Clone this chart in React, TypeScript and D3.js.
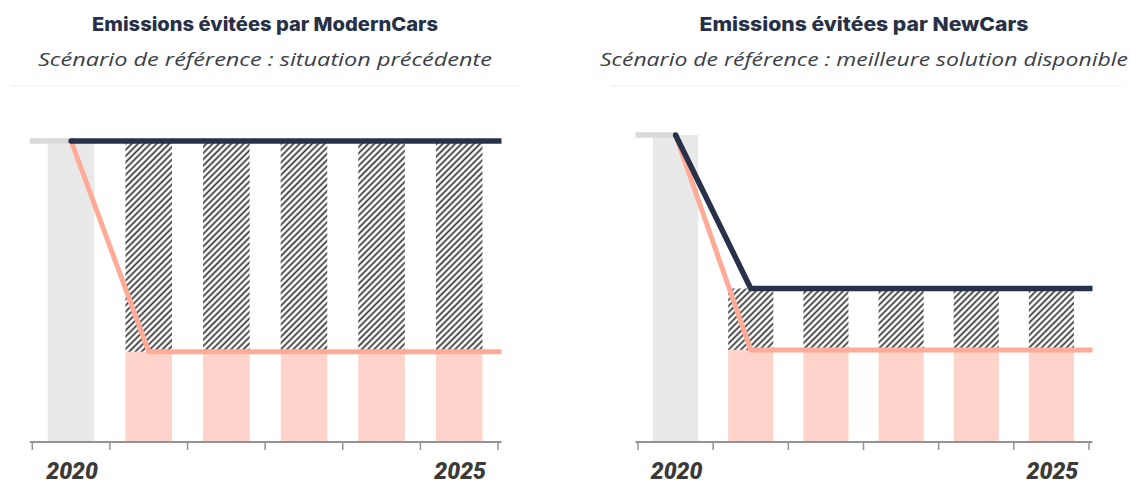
import React from "react";
import * as d3 from "d3";

const years = ["2020", "2021", "2022", "2023", "2024", "2025"];
const tickLabels = ["2020", "", "", "", "", "2025"];

const modernTitle = "Emissions évitées par ModernCars";
const modernSubtitle = "Scénario de référence : situation précédente";
const modernReference = [100, 100, 100, 100, 100, 100];
const modernEmissions = [100, 30, 30, 30, 30, 30];

const newTitle = "Emissions évitées par NewCars";
const newSubtitle = "Scénario de référence : meilleure solution disponible";
const newReference = [100, 50, 50, 50, 50, 50];
const newEmissions = [100, 30, 30, 30, 30, 30];

const NAVY = "#27324a";
const PINK_LINE = "#ffab97";
const PINK_BAR = "#fdd3ca";
const GRAY_BAR = "#e9e9e9";
const GRAY_LINE = "#d9d9d9";
const AXIS = "#939393";

type PanelProps = {
  id: string;
  title: string;
  subtitle: string;
  reference: number[];
  emissions: number[];
  x0: number;
  x1: number;
  yTop: number;
  cx: number;
  titleW: number;
  subW: number;
  sepX0: number;
  sepX1: number;
};

function Panel(p: PanelProps) {
  const yBase = 442;
  const x = d3.scaleBand<string>().domain(years).range([p.x0, p.x1]).paddingInner(0.4).paddingOuter(0.2);
  const y = d3.scaleLinear().domain([0, 100]).range([yBase, p.yTop]);
  const step = x.step();
  const bw = x.bandwidth();
  const center = (yr: string) => (x(yr) as number) + bw / 2;
  const axisStart = p.x0 - 2.5;
  const axisEnd = p.x1 + 3.5;
  const boundaries = d3.range(years.length + 1).map((i) => p.x0 + i * step);

  const line = d3.line<[number, number]>().x((d) => d[0]).y((d) => d[1]);

  const grayPts: [number, number][] = [
    [axisStart, y(p.emissions[0])],
    [center(years[0]), y(p.emissions[0])],
  ];
  const pinkPts: [number, number][] = years.map((yr, i) => [center(yr), y(p.emissions[i])] as [number, number]);
  pinkPts.push([axisEnd, y(p.emissions[p.emissions.length - 1])]);
  const navyPts: [number, number][] = years.map((yr, i) => [center(yr), y(p.reference[i])] as [number, number]);
  navyPts.push([axisEnd, y(p.reference[p.reference.length - 1])]);

  return (
    <g>
      <text x={p.cx} y={31} textAnchor="middle" fontFamily="Inter, 'Noto Sans', sans-serif" fontWeight={800} fontSize={19} fill="#263046" textLength={p.titleW} lengthAdjust="spacingAndGlyphs">
        {p.title}
      </text>
      <text x={p.cx} y={66} textAnchor="middle" fontFamily="'Open Sans', 'Noto Sans', sans-serif" fontStyle="italic" fontWeight={400} fontSize={18.5} fill="#3a3f4a" textLength={p.subW} lengthAdjust="spacingAndGlyphs">
        {p.subtitle}
      </text>
      <line x1={p.sepX0} x2={p.sepX1} y1={86} y2={86} stroke="#eeeeee" strokeWidth={1} />

      {years.map((yr, i) => {
        const bx = x(yr) as number;
        if (i === 0) {
          return <rect key={yr} x={bx} y={y(p.emissions[i])} width={bw} height={yBase - y(p.emissions[i])} fill={GRAY_BAR} />;
        }
        return (
          <g key={yr}>
            <rect x={bx} y={y(p.emissions[i])} width={bw} height={yBase - y(p.emissions[i])} fill={PINK_BAR} />
            <rect x={bx} y={y(p.reference[i])} width={bw} height={y(p.emissions[i]) - y(p.reference[i])} fill={`url(#hatch-${p.id})`} />
          </g>
        );
      })}

      <path d={line(grayPts) || ""} fill="none" stroke={GRAY_LINE} strokeWidth={5.5} />
      <path d={line(pinkPts) || ""} fill="none" stroke={PINK_LINE} strokeWidth={5} strokeLinejoin="round" />
      <path d={line(navyPts) || ""} fill="none" stroke={NAVY} strokeWidth={5.5} strokeLinejoin="round" strokeLinecap="butt" />
      <circle cx={center(years[0])} cy={y(p.reference[0])} r={2.75} fill={NAVY} />

      <line x1={axisStart} x2={axisEnd} y1={yBase} y2={yBase} stroke={AXIS} strokeWidth={2} />
      {boundaries.map((bx, i) => (
        <line key={i} x1={bx} x2={bx} y1={yBase} y2={yBase + 8} stroke={AXIS} strokeWidth={1.5} />
      ))}
      {years.map((yr, i) => (
        <text key={yr} x={center(yr) + 1} y={479} textAnchor="middle" fontFamily="Roboto, Lato, 'DejaVu Sans', sans-serif" fontWeight={900} fontStyle="italic" fontSize={23} fill="#3a3a3a">
          {tickLabels[i]}
        </text>
      ))}
    </g>
  );
}

export default function App() {
  return (
    <>
      <style>{`body{margin:0}`}</style>
      <svg width={1130} height={484} style={{ display: "block", background: "#fff" }}>
        <defs>
          {["m", "n"].map((id) => (
            <pattern key={id} id={`hatch-${id}`} patternUnits="userSpaceOnUse" width={4.4} height={4.4} patternTransform="rotate(45)">
              <rect width={4.4} height={4.4} fill="#fff" />
              <line x1={1.2} y1={0} x2={1.2} y2={4.4} stroke="#333" strokeWidth={1.7} />
            </pattern>
          ))}
        </defs>
        <Panel id="m" title={modernTitle} subtitle={modernSubtitle} reference={modernReference} emissions={modernEmissions}
          x0={32.3} x1={498} yTop={141} cx={265} titleW={346} subW={454} sepX0={10} sepX1={520} />
        <Panel id="n" title={newTitle} subtitle={newSubtitle} reference={newReference} emissions={newEmissions}
          x0={638} x1={1089} yTop={135} cx={864} titleW={329} subW={528} sepX0={611} sepX1={1122} />
      </svg>
    </>
  );
}
